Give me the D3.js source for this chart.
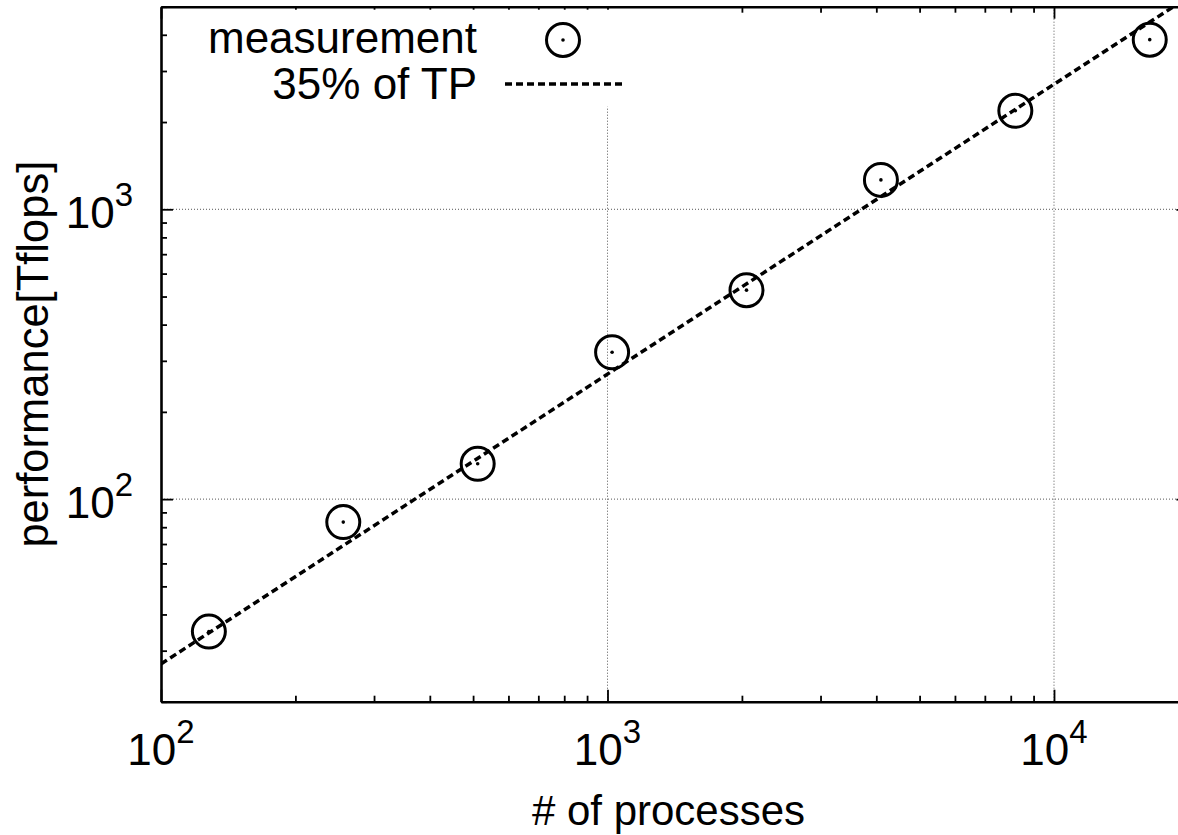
<!DOCTYPE html>
<html>
<head>
<meta charset="utf-8">
<script src="https://cdn.jsdelivr.net/npm/d3@7/dist/d3.min.js"></script>
<style>
  body { margin: 0; background: #fff; }
  text { font-family: "Liberation Sans", Arial, sans-serif; fill: #000; }
</style>
</head>
<body>
<div id="chart"></div>
<script>
// measured data
var processes = [128, 256, 512, 1024, 2048, 4096, 8192, 16384];
var performance = [34.9, 83.3, 132.4, 321, 526, 1263, 2187, 3848];
// 35% of theoretical peak, end points of the reference line
var tpProcesses = [100, 20000];
var tpPerformance = [27, 5400];
var xMajor = [100, 1000, 10000];
var yMajor = [100, 1000];
var legendLabels = ["measurement", "35% of TP"];

var width = 1178;
var height = 835;
var plotLeft = 161, plotTop = 6.7, plotBottom = 701.7;
var decade = 446.5;

var svg = d3.select("#chart").append("svg").attr("width", width).attr("height", height);
svg.append("rect").attr("width", width).attr("height", height).attr("fill", "#fff");

var x = d3.scaleLog().domain([100, 20000]).range([plotLeft, plotLeft + Math.log10(200) * decade]);
var y = d3.scaleLog().domain([20, 5000]).range([plotBottom, plotTop]);
var plotRight = x.range()[1];

svg.append("defs").append("clipPath").attr("id", "clip")
  .append("rect").attr("x", plotLeft).attr("y", plotTop)
  .attr("width", plotRight - plotLeft).attr("height", plotBottom - plotTop);

// grid
var grid = svg.append("g").attr("class", "grid");
grid.selectAll(".gx").data(xMajor.filter(function(d) { return d > 100; })).enter()
  .append("line")
  .attr("x1", function(d) { return x(d); }).attr("x2", function(d) { return x(d); })
  .attr("y1", plotTop).attr("y2", plotBottom)
  .attr("stroke", "#555").attr("stroke-width", 1).attr("stroke-dasharray", "1,2");
grid.selectAll(".gy").data(yMajor).enter()
  .append("line")
  .attr("x1", plotLeft).attr("x2", plotRight)
  .attr("y1", function(d) { return y(d); }).attr("y2", function(d) { return y(d); })
  .attr("stroke", "#555").attr("stroke-width", 1).attr("stroke-dasharray", "1,2");

// axes with inward ticks
function styleAxis(g) {
  g.select(".domain").attr("stroke", "#000").attr("stroke-width", 2.6);
  g.selectAll(".tick line").attr("stroke", "#000").attr("stroke-width", 1.8);
  g.selectAll(".tick text").remove();
}
var xTicks = x.ticks().filter(function(d) { return d >= 100 && d <= 20000; });
var yTicks = y.ticks().filter(function(d) { return d >= 20 && d <= 5000; });

var xb = svg.append("g").attr("transform", "translate(0," + plotBottom + ")")
  .call(d3.axisBottom(x).tickValues(xTicks).tickSizeOuter(0));
styleAxis(xb);
xb.selectAll(".tick line").attr("y2", function(d) { return xMajor.indexOf(d) >= 0 ? -12 : -6; });

var xt = svg.append("g").attr("transform", "translate(0," + plotTop + ")")
  .call(d3.axisTop(x).tickValues(xTicks).tickSizeOuter(0));
styleAxis(xt);
xt.selectAll(".tick line").attr("y2", function(d) { return xMajor.indexOf(d) >= 0 ? 12 : 6; });

var yl = svg.append("g").attr("transform", "translate(" + plotLeft + ",0)")
  .call(d3.axisLeft(y).tickValues(yTicks).tickSizeOuter(0));
styleAxis(yl);
yl.selectAll(".tick line").attr("x2", function(d) { return yMajor.indexOf(d) >= 0 ? 12 : 6; });

var yr = svg.append("g").attr("transform", "translate(" + plotRight + ",0)")
  .call(d3.axisRight(y).tickValues(yTicks).tickSizeOuter(0));
styleAxis(yr);
yr.selectAll(".tick line").attr("x2", function(d) { return yMajor.indexOf(d) >= 0 ? -12 : -6; });

// tick labels with superscripts
function powLabel(sel) {
  sel.append("tspan").text("10");
  sel.append("tspan").attr("dy", -22).attr("font-size", 33)
    .text(function(d) { return Math.round(Math.log10(d)); });
}
svg.selectAll(".xlab").data(xMajor).enter().append("text")
  .attr("class", "xlab")
  .attr("x", function(d) { return x(d); })
  .attr("y", plotBottom + 63.5)
  .attr("font-size", 44)
  .attr("text-anchor", "middle")
  .call(powLabel);

svg.selectAll(".ylab").data(yMajor).enter().append("text")
  .attr("class", "ylab")
  .attr("x", plotLeft - 28)
  .attr("y", function(d) { return y(d) + 18.5; })
  .attr("font-size", 44)
  .attr("text-anchor", "end")
  .call(powLabel);

// axis titles
svg.append("text")
  .attr("x", (plotLeft + 1176) / 2)
  .attr("y", 825)
  .attr("font-size", 42)
  .attr("text-anchor", "middle")
  .text("# of processes");

svg.append("text")
  .attr("transform", "translate(48," + ((plotTop + plotBottom) / 2) + ")rotate(-90)")
  .attr("font-size", 43.5)
  .attr("text-anchor", "middle")
  .text("performance[Tflops]");

// data
var plot = svg.append("g").attr("clip-path", "url(#clip)");

var line = d3.line()
  .x(function(d) { return x(d[0]); })
  .y(function(d) { return y(d[1]); });

plot.append("path")
  .datum(d3.zip(tpProcesses, tpPerformance))
  .attr("d", line)
  .attr("fill", "none")
  .attr("stroke", "#000")
  .attr("stroke-width", 3.5)
  .attr("stroke-dasharray", "7,4");

var pts = plot.selectAll(".pt").data(d3.zip(processes, performance)).enter().append("g").attr("class", "pt");
pts.append("circle")
  .attr("cx", function(d) { return x(d[0]); })
  .attr("cy", function(d) { return y(d[1]); })
  .attr("r", 16.5)
  .attr("fill", "none")
  .attr("stroke", "#000")
  .attr("stroke-width", 3);
pts.append("circle")
  .attr("cx", function(d) { return x(d[0]); })
  .attr("cy", function(d) { return y(d[1]); })
  .attr("r", 1.8)
  .attr("fill", "#000");

// legend (opaque key box)
var key = svg.append("g").attr("class", "key");
key.append("rect").attr("x", 195).attr("y", plotTop + 3).attr("width", 435).attr("height", 97).attr("fill", "#fff");

key.selectAll("text").data(legendLabels).enter().append("text")
  .attr("x", 477)
  .attr("y", function(d, i) { return 53 + i * 45.5; })
  .attr("font-size", 44)
  .attr("text-anchor", "end")
  .text(function(d) { return d; });

key.append("circle").attr("cx", 563).attr("cy", 40).attr("r", 16.5)
  .attr("fill", "none").attr("stroke", "#000").attr("stroke-width", 3);
key.append("circle").attr("cx", 563).attr("cy", 40).attr("r", 1.8).attr("fill", "#000");
key.append("line").attr("x1", 505).attr("x2", 622).attr("y1", 84).attr("y2", 84)
  .attr("stroke", "#000").attr("stroke-width", 3.5).attr("stroke-dasharray", "7,4");
</script>
</body>
</html>
